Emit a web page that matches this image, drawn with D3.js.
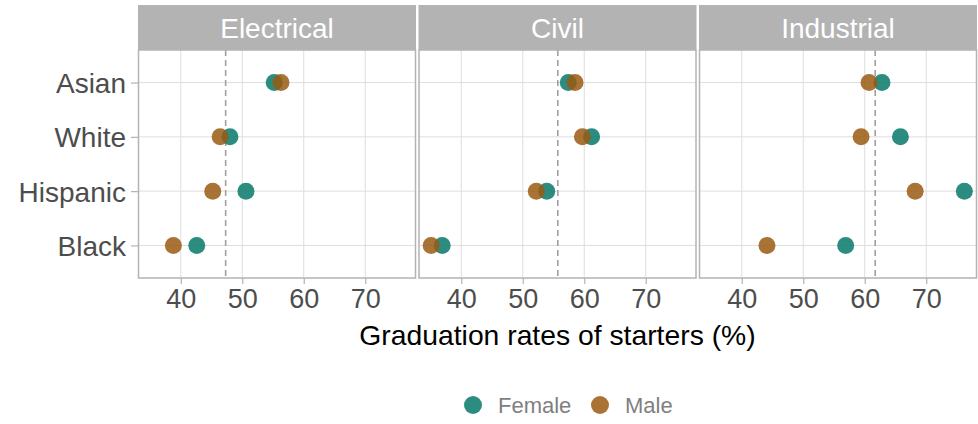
<!DOCTYPE html>
<html>
<head>
<meta charset="utf-8">
<script src="https://cdn.jsdelivr.net/npm/d3@7"></script>
<style>
  html, body { margin: 0; padding: 0; background: #fff; }
  svg { display: block; font-family: "Liberation Sans", Arial, Helvetica, sans-serif; }
</style>
</head>
<body>
<svg id="chart" width="978" height="424"></svg>
<script>
// ---- data ----
const majors = ["Electrical", "Civil", "Industrial"];
const groups = ["Asian", "White", "Hispanic", "Black"];
const sexes = ["Female", "Male"];
// values per major, order of groups
const femaleRates = {
  Electrical: [55.2, 48.0, 50.6, 42.6],
  Civil:      [57.4, 61.2, 53.9, 36.9],
  Industrial: [62.8, 65.8, 76.2, 56.9]
};
const maleRates = {
  Electrical: [56.3, 46.4, 45.2, 38.8],
  Civil:      [58.5, 59.7, 52.2, 35.1],
  Industrial: [60.7, 59.4, 68.2, 44.1]
};
const majorAverage = [47.3, 55.7, 61.7];
const xTicks = [40, 50, 60, 70];
const xTitle = "Graduation rates of starters (%)";

// ---- layout ----
const svg = d3.select("#chart");
const panelTop = 50, panelBottom = 278, stripTop = 5;
const panelLefts = [138, 418.5, 699];
const panelW = 278;
const colors = { Female: "#168072", Male: "#9a5b12" };
const opac = { Female: 0.9, Male: 0.85 };

const allVals = [];
majors.forEach(m => { allVals.push(...femaleRates[m], ...maleRates[m]); });
const ext = d3.extent(allVals);
const pad = (ext[1] - ext[0]) * 0.05;
const xDomain = [ext[0] - pad, ext[1] + pad];

const y = d3.scalePoint().domain(groups).range([panelTop, panelBottom]).padding(0.6);

majors.forEach((m, i) => {
  const x0 = panelLefts[i];
  const x = d3.scaleLinear().domain(xDomain).range([x0, x0 + panelW]);
  const g = svg.append("g");

  g.append("rect").attr("x", x0).attr("y", panelTop).attr("width", panelW)
    .attr("height", panelBottom - panelTop).attr("fill", "#fff");

  g.selectAll(".vg").data(xTicks).enter().append("line")
    .attr("x1", d => x(d)).attr("x2", d => x(d))
    .attr("y1", panelTop).attr("y2", panelBottom)
    .attr("stroke", "#dedede").attr("stroke-width", 1);
  g.selectAll(".hg").data(groups).enter().append("line")
    .attr("x1", x0).attr("x2", x0 + panelW)
    .attr("y1", d => y(d)).attr("y2", d => y(d))
    .attr("stroke", "#dedede").attr("stroke-width", 1);

  g.append("line")
    .attr("x1", x(majorAverage[i])).attr("x2", x(majorAverage[i]))
    .attr("y1", panelTop).attr("y2", panelBottom)
    .attr("stroke", "#a0a0a0").attr("stroke-width", 1.6)
    .attr("stroke-dasharray", "6,4");

  sexes.forEach(s => {
    const vals = s === "Female" ? femaleRates[m] : maleRates[m];
    g.selectAll(".pt" + s).data(groups).enter().append("circle")
      .attr("cx", (d, j) => x(vals[j]))
      .attr("cy", d => y(d))
      .attr("r", 8.5)
      .attr("fill", colors[s])
      .attr("fill-opacity", opac[s]);
  });

  g.append("rect").attr("x", x0 + 0.5).attr("y", panelTop).attr("width", panelW - 1)
    .attr("height", panelBottom - panelTop).attr("fill", "none")
    .attr("stroke", "#b3b3b3").attr("stroke-width", 1.5);

  g.append("rect").attr("x", x0).attr("y", stripTop).attr("width", panelW)
    .attr("height", panelTop - stripTop).attr("fill", "#b3b3b3");
  g.append("text").attr("x", x0 + panelW / 2).attr("y", 37.5)
    .attr("text-anchor", "middle").attr("fill", "#fff")
    .attr("font-size", 28).text(m);

  const ax = g.append("g").attr("transform", `translate(0,${panelBottom})`)
    .call(d3.axisBottom(x).tickValues(xTicks).tickSize(6).tickPadding(5).tickFormat(d3.format("d")));
  ax.select(".domain").remove();
  ax.selectAll(".tick line").attr("stroke", "#b3b3b3").attr("stroke-width", 1.2);
  ax.selectAll(".tick text").attr("fill", "#4d4d4d").attr("font-size", 27)
    .attr("font-family", "Liberation Sans, Arial, sans-serif");
});

const ay = svg.append("g").attr("transform", `translate(${panelLefts[0]},0)`)
  .call(d3.axisLeft(y).tickSize(7).tickPadding(5));
ay.select(".domain").remove();
ay.selectAll(".tick line").attr("stroke", "#b3b3b3").attr("stroke-width", 1.2);
ay.selectAll(".tick text").attr("fill", "#4d4d4d").attr("font-size", 28)
  .attr("font-family", "Liberation Sans, Arial, sans-serif").attr("dy", "0.36em");

svg.append("text").attr("x", (panelLefts[0] + panelLefts[2] + panelW) / 2).attr("y", 345)
  .attr("text-anchor", "middle").attr("fill", "#000").attr("font-size", 28.3).text(xTitle);

const legendX = [473, 600];
sexes.forEach((s, k) => {
  svg.append("circle").attr("cx", legendX[k]).attr("cy", 405).attr("r", 9)
    .attr("fill", colors[s]).attr("fill-opacity", opac[s]);
  svg.append("text").attr("x", legendX[k] + 25).attr("y", 413)
    .attr("fill", "#7f7f7f").attr("font-size", 22).text(s);
});
</script>
</body>
</html>
